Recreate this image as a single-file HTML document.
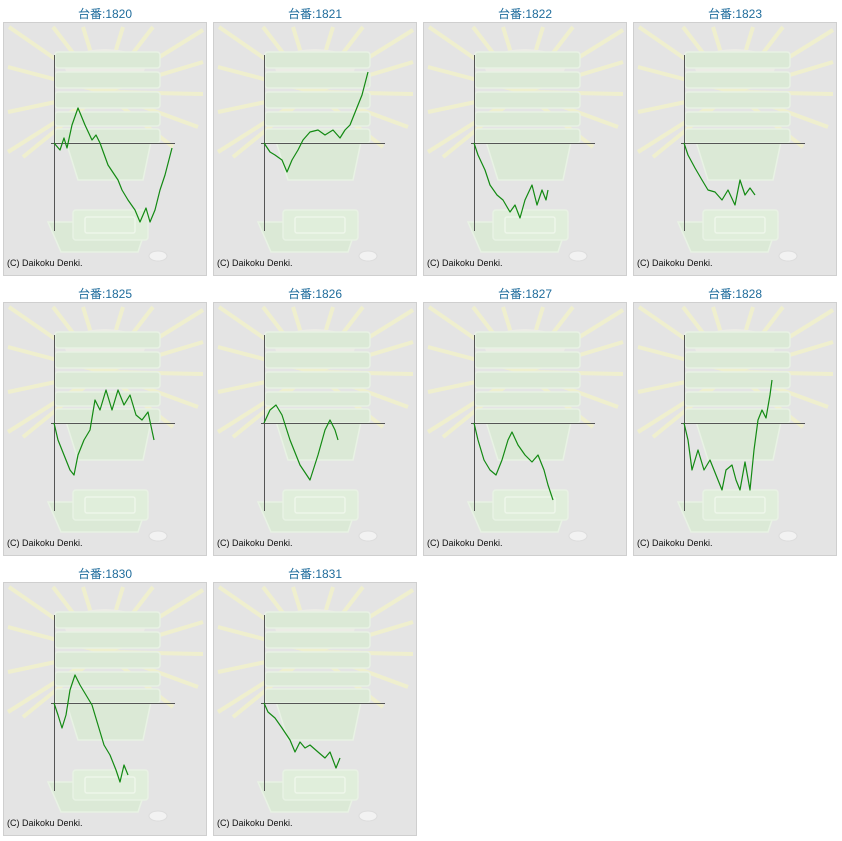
<!DOCTYPE html>
<html><head><meta charset="utf-8"><style>
html,body{margin:0;padding:0;background:#fff;width:842px;height:841px;overflow:hidden}
.t{position:absolute;width:204px;text-align:center;font:12px "Liberation Sans","Noto Sans CJK JP",sans-serif;color:#1f6c9c}
svg{position:absolute;left:0;top:0}
</style></head><body>
<svg width="842" height="841" viewBox="0 0 842 841" xmlns="http://www.w3.org/2000/svg">
<defs>
<g id="bg">
<rect x="0.5" y="0.5" width="203" height="253" fill="#e4e4e4" stroke="#cfcfcf"/>
<g stroke="#f1f1cc" stroke-width="4" opacity="0.9">
<line x1="100" y1="70" x2="6" y2="5"/><line x1="100" y1="70" x2="5" y2="45"/><line x1="100" y1="70" x2="5" y2="90"/>
<line x1="100" y1="70" x2="5" y2="130"/><line x1="100" y1="70" x2="20" y2="135"/>
<line x1="100" y1="70" x2="50" y2="5"/><line x1="100" y1="70" x2="80" y2="5"/><line x1="100" y1="70" x2="120" y2="5"/>
<line x1="100" y1="70" x2="150" y2="5"/><line x1="100" y1="70" x2="200" y2="8"/><line x1="100" y1="70" x2="200" y2="40"/>
<line x1="100" y1="70" x2="200" y2="72"/><line x1="100" y1="70" x2="195" y2="105"/><line x1="100" y1="70" x2="170" y2="125"/>
</g>
<ellipse cx="102" cy="45" rx="40" ry="18" fill="#ecece6" stroke="none"/>
<g fill="#dbe9d6" stroke="#e8f2e4" stroke-width="1.5">
<path d="M60 110 L150 110 L140 158 L75 158 Z"/>
<rect x="52" y="30" width="105" height="16" rx="3"/>
<rect x="52" y="50" width="105" height="16" rx="3"/>
<rect x="52" y="70" width="105" height="16" rx="3"/>
<rect x="52" y="90" width="105" height="14" rx="3"/>
<rect x="52" y="107" width="105" height="14" rx="3"/>
<path d="M45 200 L145 200 L135 230 L58 230 Z"/>
<rect x="70" y="188" width="75" height="30" rx="3" fill="#e0eedb"/>
<rect x="82" y="195" width="50" height="16" rx="2" fill="none" stroke="#eef6ea"/>
</g>
<ellipse cx="155" cy="234" rx="9" ry="5" fill="#f2f2f2" stroke="#dcdcdc"/>
<line x1="51.5" y1="33" x2="51.5" y2="209" stroke="#555" stroke-width="1"/>
<line x1="48" y1="121.5" x2="172" y2="121.5" stroke="#555" stroke-width="1"/>
<text x="4" y="244" font-family="Liberation Sans,sans-serif" font-size="9" fill="#111" stroke="none">(C) Daikoku Denki.</text>
</g>
</defs>
<use href="#bg" x="3" y="22"/><use href="#bg" x="213" y="22"/><use href="#bg" x="423" y="22"/><use href="#bg" x="633" y="22"/>
<use href="#bg" x="3" y="302"/><use href="#bg" x="213" y="302"/><use href="#bg" x="423" y="302"/><use href="#bg" x="633" y="302"/>
<use href="#bg" x="3" y="582"/><use href="#bg" x="213" y="582"/>
<g fill="none" stroke="#138a13" stroke-width="1.2" stroke-linejoin="round">
<polyline transform="translate(54,143)" points="0,0 6,7 10,-5 13,5 18,-18 24,-35 31,-18 38,-3 42,-8 46,0 54,22 64,37 68,47 74,57 81,67 86,79 92,65 96,79 101,67 106,47 111,32 118,5"/>
<polyline transform="translate(264,143)" points="0,0 6,9 11,12 18,17 23,29 28,17 34,7 39,-3 46,-11 54,-13 61,-8 69,-13 76,-5 81,-13 86,-18 92,-33 98,-48 104,-71"/>
<polyline transform="translate(474,143)" points="0,0 4,12 11,27 16,42 23,52 29,57 36,69 41,62 46,75 51,57 58,42 63,62 68,47 72,57 74,47"/>
<polyline transform="translate(684,143)" points="0,0 4,12 11,25 18,37 24,47 31,49 38,57 44,47 51,62 56,37 61,52 66,45 71,52"/>
<polyline transform="translate(54,423)" points="0,0 4,17 10,32 16,47 20,52 24,32 30,17 36,7 41,-23 46,-13 52,-33 58,-13 64,-33 70,-18 76,-28 82,-8 88,-3 94,-11 100,17"/>
<polyline transform="translate(264,423)" points="0,0 6,-13 12,-18 18,-8 26,17 36,42 46,57 54,32 61,7 66,-3 71,7 74,17"/>
<polyline transform="translate(474,423)" points="0,0 4,17 10,37 16,47 22,52 28,37 34,17 38,9 44,22 51,32 58,39 64,32 70,47 74,62 79,77"/>
<polyline transform="translate(684,423)" points="0,0 4,17 8,47 14,27 20,47 26,37 32,52 38,67 42,47 48,42 52,57 56,67 61,39 66,67 70,27 74,-3 78,-13 82,-5 86,-28 88,-43"/>
<polyline transform="translate(54,703)" points="0,0 4,12 8,25 12,12 16,-13 21,-28 26,-18 32,-8 38,2 44,22 50,42 56,52 62,67 66,79 70,62 74,72"/>
<polyline transform="translate(264,703)" points="0,0 4,9 11,15 18,25 26,37 31,49 36,39 41,45 46,42 54,49 61,55 66,49 72,65 76,55"/>
</g>
</svg>
<div class="t" style="left:3px;top:5px">台番:1820</div>
<div class="t" style="left:213px;top:5px">台番:1821</div>
<div class="t" style="left:423px;top:5px">台番:1822</div>
<div class="t" style="left:633px;top:5px">台番:1823</div>
<div class="t" style="left:3px;top:285px">台番:1825</div>
<div class="t" style="left:213px;top:285px">台番:1826</div>
<div class="t" style="left:423px;top:285px">台番:1827</div>
<div class="t" style="left:633px;top:285px">台番:1828</div>
<div class="t" style="left:3px;top:565px">台番:1830</div>
<div class="t" style="left:213px;top:565px">台番:1831</div>
</body></html>
